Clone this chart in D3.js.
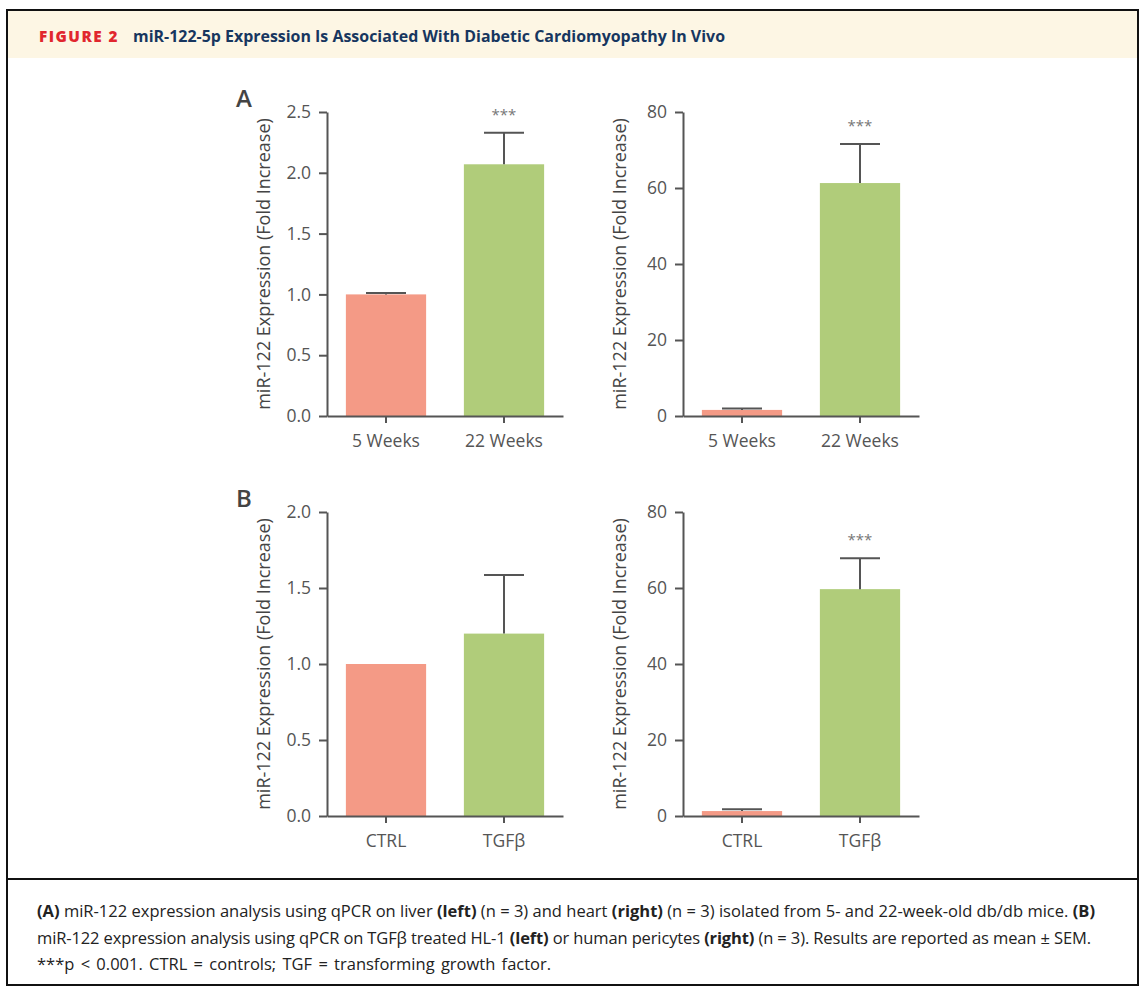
<!DOCTYPE html>
<html>
<head>
<meta charset="utf-8">
<script src="https://cdn.jsdelivr.net/npm/d3@7"></script>
<style>
	body { margin: 0; background: #fff; }
	svg { display: block; font-family: 'Open Sans', 'Noto Sans', sans-serif; }
	.tick text { fill: #555; font-size: 17.5px; font-family: 'Open Sans', 'Noto Sans', sans-serif; }
	.domain, .tick line { stroke: #555; stroke-width: 2; }
</style>
</head>
<body>
<svg id="fig" width="1142" height="991"></svg>
<script>
// data
let weeks = ['5 Weeks', '22 Weeks']
let treat = ['CTRL', 'TGFβ']

let liverMean = [1.0, 2.07]
let liverSem = [0.012, 0.26]
let liverSig = ['', '***']

let heartMean = [1.6, 61.3]
let heartSem = [0.4, 10.3]
let heartSig = ['', '***']

let hl1Mean = [1.0, 1.2]
let hl1Sem = [0, 0.385]
let hl1Sig = ['', '']

let pericyteMean = [1.3, 59.7]
let pericyteSem = [0.45, 8.1]
let pericyteSig = ['', '***']

let ticksSmallA = [0, 0.5, 1.0, 1.5, 2.0, 2.5]
let ticksSmallB = [0, 0.5, 1.0, 1.5, 2.0]
let ticksBig = [0, 20, 40, 60, 80]

const barColors = ['#F49A86', '#B0CC7A']
const axisColor = '#555'

document.addEventListener('DOMContentLoaded', function(event) {
	const svg = d3.select('#fig')

	// frame + header
	svg.append('rect')
		.attr('x', 7).attr('y', 10).attr('width', 1131).attr('height', 48)
		.attr('fill', '#FDF6E4')
	svg.append('rect')
		.attr('x', 7).attr('y', 10).attr('width', 1131).attr('height', 975)
		.attr('fill', 'none').attr('stroke', '#111').attr('stroke-width', 2)
	svg.append('line')
		.attr('x1', 7).attr('x2', 1138).attr('y1', 879).attr('y2', 879)
		.attr('stroke', '#111').attr('stroke-width', 2)

	svg.append('text')
		.attr('x', 39).attr('y', 42)
		.attr('fill', '#E1262E')
		.attr('font-size', 15.5).attr('font-weight', 800)
		.attr('letter-spacing', 1.5)
		.attr('textLength', 80).attr('lengthAdjust', 'spacingAndGlyphs')
		.text('FIGURE 2')
	svg.append('text')
		.attr('x', 133).attr('y', 42)
		.attr('fill', '#17365F')
		.attr('font-size', 16.5).attr('font-weight', 700)
		.attr('textLength', 592).attr('lengthAdjust', 'spacingAndGlyphs')
		.text('miR-122-5p Expression Is Associated With Diabetic Cardiomyopathy In Vivo')

	// panels
	panel(svg, {x: 327, y: 112, cats: weeks, mean: liverMean, sem: liverSem, sig: liverSig, max: 2.5, ticks: ticksSmallA, fmt: d3.format('.1f'), letter: 'A'})
	panel(svg, {x: 683, y: 112, cats: weeks, mean: heartMean, sem: heartSem, sig: heartSig, max: 80, ticks: ticksBig, fmt: d3.format('d')})
	panel(svg, {x: 327, y: 512, cats: treat, mean: hl1Mean, sem: hl1Sem, sig: hl1Sig, max: 2.0, ticks: ticksSmallB, fmt: d3.format('.1f'), letter: 'B'})
	panel(svg, {x: 683, y: 512, cats: treat, mean: pericyteMean, sem: pericyteSem, sig: pericyteSig, max: 80, ticks: ticksBig, fmt: d3.format('d')})

	// caption
	let lines = [
		[['(A)', 1], [' miR-122 expression analysis using qPCR on liver ', 0], ['(left)', 1], [' (n = 3) and heart ', 0], ['(right)', 1], [' (n = 3) isolated from 5- and 22-week-old db/db mice. ', 0], ['(B)', 1]],
		[['miR-122 expression analysis using qPCR on TGFβ treated HL-1 ', 0], ['(left)', 1], [' or human pericytes ', 0], ['(right)', 1], [' (n = 3). Results are reported as mean ± SEM.', 0]],
		[['***p < 0.001. CTRL = controls; TGF = transforming growth factor.', 0]]
	]
	let lineWidths = [1058, 1054, null]
	lines.forEach((parts, i) => {
		let t = svg.append('text')
			.attr('x', 37).attr('y', 917 + i * 26.5)
			.attr('font-size', 16.5).attr('fill', '#222')
			.attr('xml:space', 'preserve')
		if (lineWidths[i]) {
			t.attr('textLength', lineWidths[i]).attr('lengthAdjust', 'spacing')
		} else {
			t.attr('word-spacing', 2)
		}
		parts.forEach(p => {
			t.append('tspan')
				.attr('font-weight', p[1] ? 700 : 400)
				.text(p[0])
		})
	})
})

function panel(svg, o) {
	const w = 236, h = 304
	const x = d3.scaleBand().domain(o.cats).range([0, w]).paddingInner(0.32).paddingOuter(0.16)
	const y = d3.scaleLinear().domain([0, o.max]).range([h, 0])

	const g = svg.append('g').attr('transform', `translate(${o.x},${o.y})`)

	g.selectAll('rect.bar')
		.data(o.cats)
		.enter()
		.append('rect')
		.attr('class', 'bar')
		.attr('x', d => x(d))
		.attr('width', x.bandwidth())
		.attr('y', (d, i) => y(o.mean[i]))
		.attr('height', (d, i) => h - y(o.mean[i]))
		.attr('fill', (d, i) => barColors[i])

	// error bars (upper only)
	let eb = g.selectAll('g.err')
		.data(o.cats.filter((d, i) => o.sem[i] > 0))
		.enter()
		.append('g')
		.attr('class', 'err')
	eb.append('line')
		.attr('x1', d => x(d) + x.bandwidth() / 2)
		.attr('x2', d => x(d) + x.bandwidth() / 2)
		.attr('y1', d => y(o.mean[o.cats.indexOf(d)]))
		.attr('y2', d => { let i = o.cats.indexOf(d); return y(o.mean[i] + o.sem[i]) })
		.attr('stroke', axisColor).attr('stroke-width', 2)
	eb.append('line')
		.attr('x1', d => x(d) + x.bandwidth() / 2 - 20)
		.attr('x2', d => x(d) + x.bandwidth() / 2 + 20)
		.attr('y1', d => { let i = o.cats.indexOf(d); return y(o.mean[i] + o.sem[i]) })
		.attr('y2', d => { let i = o.cats.indexOf(d); return y(o.mean[i] + o.sem[i]) })
		.attr('stroke', axisColor).attr('stroke-width', 2)

	g.selectAll('text.sig')
		.data(o.cats)
		.enter()
		.append('text')
		.attr('class', 'sig')
		.attr('x', d => x(d) + x.bandwidth() / 2)
		.attr('y', (d, i) => y(o.mean[i] + o.sem[i]) - 13)
		.attr('text-anchor', 'middle')
		.attr('font-size', 15).attr('fill', '#777')
		.text((d, i) => o.sig[i])

	g.append('g')
		.call(d3.axisLeft(y).tickValues(o.ticks).tickFormat(o.fmt).tickSize(8).tickPadding(8).tickSizeOuter(0))

	g.append('g')
		.attr('transform', `translate(0,${h})`)
		.call(d3.axisBottom(x).tickSize(7).tickPadding(12).tickSizeOuter(0))

	g.append('text')
		.attr('transform', `translate(-64,${h / 2}) rotate(-90)`)
		.attr('text-anchor', 'middle')
		.attr('dominant-baseline', 'central')
		.attr('font-size', 18).attr('fill', '#444')
		.text('miR-122 Expression (Fold Increase)')

	if (o.letter) {
		g.append('text')
			.attr('x', -91).attr('y', -5)
			.attr('font-size', 24).attr('font-weight', 600).attr('fill', '#444')
			.text(o.letter)
	}
}
</script>
</body>
</html>
